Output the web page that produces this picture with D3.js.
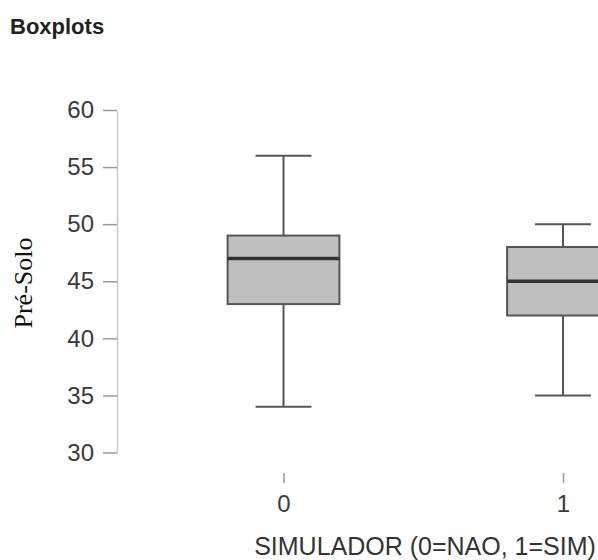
<!DOCTYPE html>
<html>
<head>
<meta charset="utf-8">
<script src="https://cdn.jsdelivr.net/npm/d3@7"></script>
<style>
  body { margin: 0; background: #fff; }
  svg { display: block; }
</style>
</head>
<body>
<div id="chart"></div>
<script>
// Chart data
const groups = ["0", "1"];
const whiskerLow = [34, 35];
const q1 = [43, 42];
const medians = [47, 45];
const q3 = [49, 48];
const whiskerHigh = [56, 50];
const yTicks = [30, 35, 40, 45, 50, 55, 60];

const width = 598;
const height = 560;

const boxes = groups.map((g, i) => ({
    group: g,
    low: whiskerLow[i],
    q1: q1[i],
    median: medians[i],
    q3: q3[i],
    high: whiskerHigh[i]
}));

const svg = d3.select("#chart")
    .append("svg")
    .attr("width", width)
    .attr("height", height);

// Title
svg.append("text")
    .attr("x", 10)
    .attr("y", 34)
    .style("font-family", "Liberation Sans, Arial, sans-serif")
    .style("font-weight", "bold")
    .style("font-size", "22px")
    .style("fill", "#222")
    .text("Boxplots");

// Scales
const yScale = d3.scaleLinear()
    .domain([30, 60])
    .range([452.5, 110]);

const xScale = d3.scalePoint()
    .domain(groups)
    .range([283.5, 563]);

const step = xScale(groups[1]) - xScale(groups[0]);
const boxWidth = step * 0.4;
const capWidth = step * 0.2;

// Y axis
const yAxis = d3.axisLeft(yScale)
    .tickValues(yTicks)
    .tickSize(14)
    .tickPadding(9)
    .tickSizeOuter(0);

const yAxisG = svg.append("g")
    .attr("transform", "translate(117,0)")
    .call(yAxis);

yAxisG.select(".domain").attr("stroke", "#c8c8c8").attr("stroke-width", 1.5);
yAxisG.selectAll(".tick line").attr("stroke", "#999").attr("stroke-width", 1.5);
yAxisG.selectAll(".tick text")
    .style("font-family", "Liberation Sans, Arial, sans-serif")
    .style("font-size", "24px")
    .style("fill", "#3a3a3a");

// X axis (ticks only, no line)
const xAxis = d3.axisBottom(xScale)
    .tickSize(10)
    .tickPadding(12)
    .tickSizeOuter(0);

const xAxisG = svg.append("g")
    .attr("transform", "translate(0,473)")
    .call(xAxis);

xAxisG.select(".domain").remove();
xAxisG.selectAll(".tick line").attr("stroke", "#999").attr("stroke-width", 1.5);
xAxisG.selectAll(".tick text")
    .style("font-family", "Liberation Sans, Arial, sans-serif")
    .style("font-size", "24px")
    .style("fill", "#3a3a3a");

// Axis titles
svg.append("text")
    .attr("x", 425)
    .attr("y", 555)
    .attr("text-anchor", "middle")
    .style("font-family", "Liberation Sans, Arial, sans-serif")
    .style("font-size", "25px")
    .style("fill", "#333")
    .text("SIMULADOR (0=NAO, 1=SIM)");

svg.append("text")
    .attr("transform", "translate(32,283) rotate(-90)")
    .attr("text-anchor", "middle")
    .style("font-family", "Liberation Serif, Times New Roman, serif")
    .style("font-size", "26px")
    .style("fill", "#111")
    .text("Pré-Solo");

// Boxplots
const boxG = svg.selectAll(".box")
    .data(boxes)
    .enter()
    .append("g")
    .attr("class", "box");

// whisker stems
boxG.append("line")
    .attr("x1", d => xScale(d.group))
    .attr("x2", d => xScale(d.group))
    .attr("y1", d => yScale(d.low))
    .attr("y2", d => yScale(d.high))
    .attr("stroke", "#555")
    .attr("stroke-width", 2);

// whisker caps
boxG.selectAll(".cap")
    .data(d => [d.low, d.high].map(v => ({ group: d.group, v: v })))
    .enter()
    .append("line")
    .attr("class", "cap")
    .attr("x1", d => xScale(d.group) - capWidth / 2)
    .attr("x2", d => xScale(d.group) + capWidth / 2)
    .attr("y1", d => yScale(d.v))
    .attr("y2", d => yScale(d.v))
    .attr("stroke", "#555")
    .attr("stroke-width", 2);

// box body
boxG.append("rect")
    .attr("x", d => xScale(d.group) - boxWidth / 2)
    .attr("y", d => yScale(d.q3))
    .attr("width", boxWidth)
    .attr("height", d => yScale(d.q1) - yScale(d.q3))
    .attr("fill", "#bfbfbf")
    .attr("stroke", "#555")
    .attr("stroke-width", 2);

// median line
boxG.append("line")
    .attr("x1", d => xScale(d.group) - boxWidth / 2)
    .attr("x2", d => xScale(d.group) + boxWidth / 2)
    .attr("y1", d => yScale(d.median))
    .attr("y2", d => yScale(d.median))
    .attr("stroke", "#333")
    .attr("stroke-width", 3.5);
</script>
</body>
</html>
